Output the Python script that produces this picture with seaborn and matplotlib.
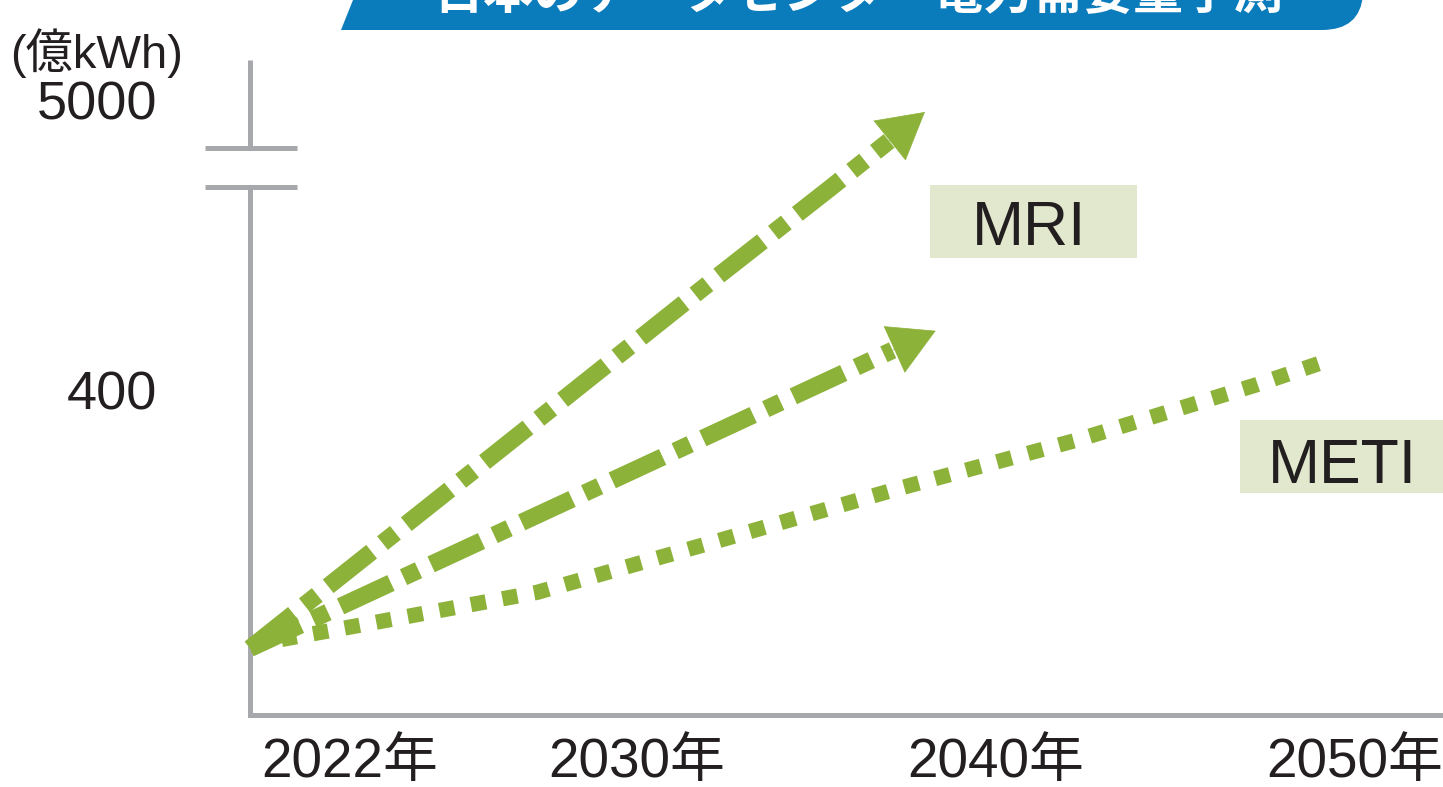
import numpy as np
import matplotlib
matplotlib.use("Agg")
import matplotlib.pyplot as plt
import matplotlib.patches as mpatches
from matplotlib.path import Path
from matplotlib.transforms import Affine2D, ScaledTranslation
import seaborn as sns

# ---------------- data ----------------
title = "日本のデータセンター電力需要量予測"
unit_label = "(億kWh)"
x_ticks = [2022, 2030, 2040, 2050]
x_tick_labels = ["2022年", "2030年", "2040年", "2050年"]
y_ticks = [400, 5000]
y_tick_labels = ["400", "5000"]
y_break = 650          # axis is broken above this value

mri_high_years = [2022, 2030, 2035, 2038.2, 2039.8, 2040.8]
mri_high_values = [82, 363, 539, 650, 2950, 4400]
mri_low_years = [2022, 2030, 2039.9, 2041.1]
mri_low_values = [82, 246, 449, 473]
meti_years = [2022, 2025, 2030, 2035, 2040, 2045, 2050, 2051.8]
meti_values = [86, 110, 151, 214, 278, 338, 406, 433]
series_labels = ["MRI", "METI"]

# ---------------- style ----------------
sns.set_theme(style="white")
plt.rcParams["font.family"] = ["Liberation Sans", "Noto Sans CJK JP", "DejaVu Sans"]

GREEN = "#8db23a"
GRAY = "#a6a8ab"
TEXT = "#231f20"
BOX = "#e2e8cd"
BLUE = "#0a7bbb"

W, H = 1443, 787
fig = plt.figure(figsize=(W / 100, H / 100), dpi=100)
fig.patch.set_facecolor("white")

def fx(x):
    return x / W

def fy(y):
    return 1 - y / H

ax = fig.add_axes([fx(250), fy(715), (W - 250) / W, (715 - 60) / H])
ax.set_facecolor("none")

HIGH_K = 0.02 / 0.8125

def fwd(v):
    v = np.asarray(v, dtype=float)
    return np.where(v <= y_break, v, y_break + (v - y_break) * HIGH_K)

def inv(f):
    f = np.asarray(f, dtype=float)
    return np.where(f <= y_break, f, y_break + (f - y_break) / HIGH_K)

ax.set_yscale("function", functions=(fwd, inv))
ax.set_xlim(2022, 2022 + (W - 250) / 35.9)
ax.set_ylim(0, 7000)

# ---------------- lines ----------------
dashdot = (0, (3.2, 0.8, 0.95, 0.8))
sns.lineplot(x=mri_high_years[:-1], y=mri_high_values[:-1], ax=ax, color=GREEN,
             lw=12.5, linestyle=dashdot, zorder=4, clip_on=False, sort=False)
sns.lineplot(x=mri_low_years[:-1], y=mri_low_values[:-1], ax=ax, color=GREEN,
             lw=12.5, linestyle=dashdot, zorder=4, clip_on=False, sort=False)
sns.lineplot(x=meti_years, y=meti_values, ax=ax, color=GREEN,
             lw=11, linestyle=(0, (1.0, 1.1)), zorder=4, clip_on=False, sort=False)

for yrs, vals in [(mri_high_years, mri_high_values), (mri_low_years, mri_low_values)]:
    ax.annotate("", xy=(yrs[-1], vals[-1]), xytext=(yrs[-2], vals[-2]),
                arrowprops=dict(arrowstyle="-|>,head_length=32,head_width=18",
                                mutation_scale=1, color=GREEN, lw=0.5,
                                shrinkA=0, shrinkB=0),
                annotation_clip=False, zorder=5)

# ---------------- axes ----------------
for s in ["left", "top", "right"]:
    ax.spines[s].set_visible(False)
ax.spines["bottom"].set_color(GRAY)
ax.spines["bottom"].set_linewidth(3.6)
ax.spines["bottom"].set_zorder(3)

break_lo = fwd(y_break) / fwd(7000)
break_hi = (715 - 148) / (715 - 60)
ax.plot([0, 0], [0, break_lo], transform=ax.transAxes, color=GRAY, lw=3.6,
        clip_on=False, zorder=3, solid_capstyle="butt")
ax.plot([0, 0], [break_hi, 1], transform=ax.transAxes, color=GRAY, lw=3.6,
        clip_on=False, zorder=3, solid_capstyle="butt")
bx0, bx1 = (205 - 250) / (W - 250), (297 - 250) / (W - 250)
for yy in (break_lo, break_hi):
    ax.plot([bx0, bx1], [yy, yy], transform=ax.transAxes, color=GRAY, lw=3.6,
            clip_on=False, zorder=3, solid_capstyle="butt")

ax.set_xticks(x_ticks)
ax.set_xticklabels(x_tick_labels, fontsize=39.5, color=TEXT, ha="left")
ax.set_yticks(y_ticks)
ax.set_yticklabels(y_tick_labels, fontsize=39, color=TEXT)
ax.yaxis.set_minor_locator(matplotlib.ticker.NullLocator())
ax.tick_params(axis="both", length=0)
ax.tick_params(axis="x", pad=16)
ax.tick_params(axis="y", pad=67)
off = ScaledTranslation(11 / 100, 0, fig.dpi_scale_trans)
for lab in ax.get_xticklabels():
    lab.set_transform(lab.get_transform() + off)
ax.grid(False)

# ---------------- annotations ----------------
fig.text(fx(10), fy(53), unit_label, fontsize=34, color=TEXT, ha="left", va="center")

for (x0, y0, x1, y1), (tx, ty), lab in [((930, 185, 1137, 258), (1029, 245), series_labels[0]),
                                        ((1240, 420, 1460, 493), (1342, 483), series_labels[1])]:
    fig.patches.append(mpatches.Rectangle((fx(x0), fy(y1)), (x1 - x0) / W, (y1 - y0) / H,
                                          transform=fig.transFigure, facecolor=BOX,
                                          edgecolor="none", zorder=6))
    fig.text(fx(tx), fy(ty), lab, fontsize=45, color=TEXT, ha="center", va="baseline", zorder=7)

# title banner (top partly cut off, as in the source)
px2fig = Affine2D().scale(1 / W, -1 / H).translate(0, 1) + fig.transFigure
verts = [(365, -30), (341, 30), (1322, 30), (1360, 30), (1363, -5), (1364, -30), (365, -30)]
codes = [Path.MOVETO, Path.LINETO, Path.LINETO, Path.CURVE3, Path.CURVE3, Path.LINETO, Path.CLOSEPOLY]
fig.patches.append(mpatches.PathPatch(Path(verts, codes), transform=px2fig,
                                      facecolor=BLUE, edgecolor="none", zorder=6))
fig.text(fx(858), fy(9), title, fontsize=36, color="white", ha="center", va="baseline",
         family=["Noto Sans CJK JP"], weight="bold", zorder=7)

fig.savefig("out.png", dpi=100)
